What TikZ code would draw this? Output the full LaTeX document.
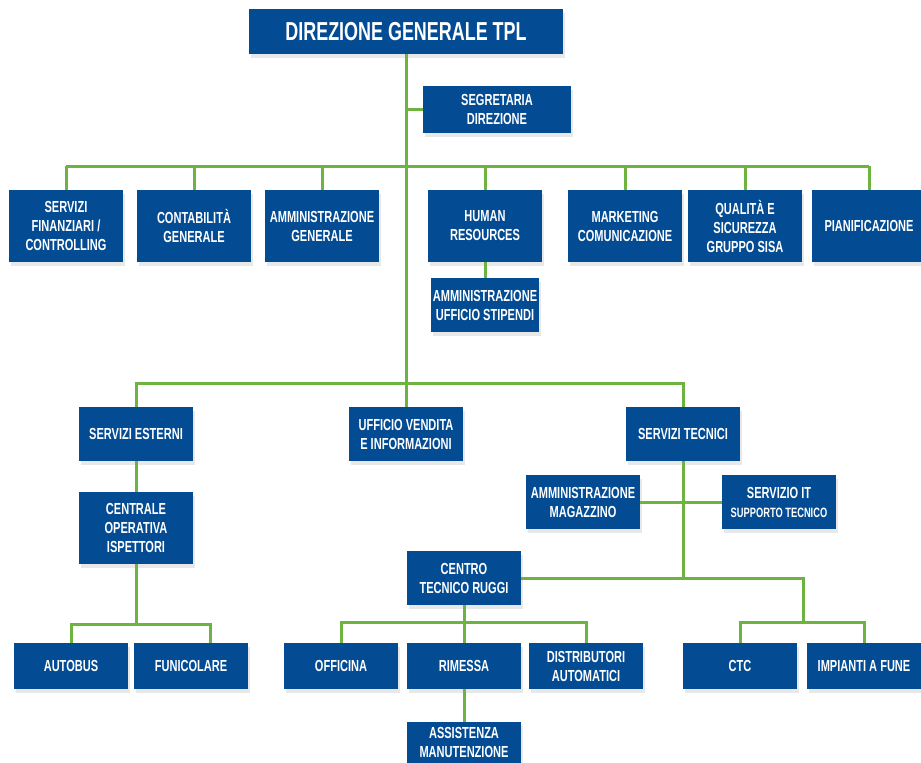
\documentclass[tikz,border=0pt]{standalone}
\usepackage{fontspec}
\setmainfont{Liberation Sans}[FakeStretch=0.69]
\usetikzlibrary{shadows}
\definecolor{boxblue}{HTML}{034C94}
\definecolor{linegreen}{HTML}{6DB33F}
\tikzset{
  orgbox/.style={fill=boxblue, text=white, inner sep=0pt, align=center,
    minimum width=114pt, minimum height=54pt,
    font=\bfseries\fontsize{16}{19}\selectfont,
    drop shadow={opacity=0.18, shadow xshift=2pt, shadow yshift=-4pt}},
  tallbox/.style={orgbox, minimum height=72pt},
  lowbox/.style={orgbox, minimum height=46pt},
  conn/.style={draw=linegreen, line width=3pt}
}
\begin{document}
\begin{tikzpicture}[x=1pt, y=-1pt]
\useasboundingbox (0,0) rectangle (921,763);
% level 0
\node[orgbox, minimum width=314pt, minimum height=45pt, font=\bfseries\fontsize{26}{30}\selectfont] (dir) at (406,31.5) {DIREZIONE GENERALE TPL};
\node[orgbox, minimum width=148pt, minimum height=47pt] (seg) at (497,109.5) {SEGRETARIA\\DIREZIONE};
% row 1
\node[tallbox] (sf) at (66,226) {SERVIZI\\FINANZIARI /\\CONTROLLING};
\node[tallbox] (cg) at (194,226) {CONTABILIT\`A\\GENERALE};
\node[tallbox] (ag) at (322,226) {AMMINISTRAZIONE\\GENERALE};
\node[tallbox] (hr) at (485,226) {HUMAN\\RESOURCES};
\node[tallbox] (mk) at (625,226) {MARKETING\\COMUNICAZIONE};
\node[tallbox] (qs) at (745,226) {QUALIT\`A E\\SICUREZZA\\GRUPPO SISA};
\node[tallbox] (pi) at (869,226) {PIANIFICAZIONE};
\node[orgbox, minimum width=108pt] (us) at (485,305) {AMMINISTRAZIONE\\UFFICIO STIPENDI};
% row 2
\node[orgbox] (se) at (136,434) {SERVIZI ESTERNI};
\node[orgbox] (uv) at (406,434) {UFFICIO VENDITA\\E INFORMAZIONI};
\node[orgbox] (st) at (683,434) {SERVIZI TECNICI};
\node[tallbox] (co) at (136,528) {CENTRALE\\OPERATIVA\\ISPETTORI};
\node[orgbox] (am) at (583,502) {AMMINISTRAZIONE\\MAGAZZINO};
\node[orgbox] (it) at (779,502) {SERVIZIO IT\\{\fontsize{13.5}{19}\selectfont SUPPORTO TECNICO}};
\node[orgbox] (ct) at (464,578) {CENTRO\\TECNICO RUGGI};
% bottom row
\node[lowbox] (au) at (71,666) {AUTOBUS};
\node[lowbox] (fu) at (191,666) {FUNICOLARE};
\node[lowbox] (of) at (341,666) {OFFICINA};
\node[lowbox] (ri) at (464,666) {RIMESSA};
\node[lowbox] (da) at (586,666) {DISTRIBUTORI\\AUTOMATICI};
\node[lowbox] (ctc) at (740,666) {CTC};
\node[lowbox] (ia) at (864,666) {IMPIANTI A FUNE};
\node[orgbox, text depth=14pt] (as) at (464,749) {ASSISTENZA\\MANUTENZIONE};
% junction coordinates
\coordinate (b1) at (406,166);
\coordinate (b2) at (406,383);
\coordinate (b3) at (136,624);
\coordinate (b4) at (464,622);
\coordinate (j5) at (683,578);
\coordinate (j6) at (803,622);
\coordinate (fuc) at (210,643);
% connectors
\draw[conn] (dir.south) -- (uv.north);
\draw[conn] (seg.west -| dir.south) -- (seg.west);
\draw[conn] (sf.north |- b1) -- (pi.north |- b1);
\foreach \n in {sf,cg,ag,hr,mk,qs,pi} \draw[conn] (\n.north) -- (\n.north |- b1);
\draw[conn] (hr.south) -- (us.north);
\draw[conn] (se.north) |- (b2) -| (st.north);
\draw[conn] (se.south) -- (co.north);
\draw[conn] (co.south) -- (b3);
\draw[conn] (au.north) |- (b3) -| (fuc);
\draw[conn] (st.south) -- (j5);
\draw[conn] (am.east) -- (it.west);
\draw[conn] (ct.east) -- (j5) -| (j6);
\draw[conn] (ctc.north) |- (j6) -| (ia.north);
\draw[conn] (ct.south) -- (ri.north);
\draw[conn] (of.north) |- (b4) -| (da.north);
\draw[conn] (ri.south) -- (as.north);
\end{tikzpicture}
\end{document}
